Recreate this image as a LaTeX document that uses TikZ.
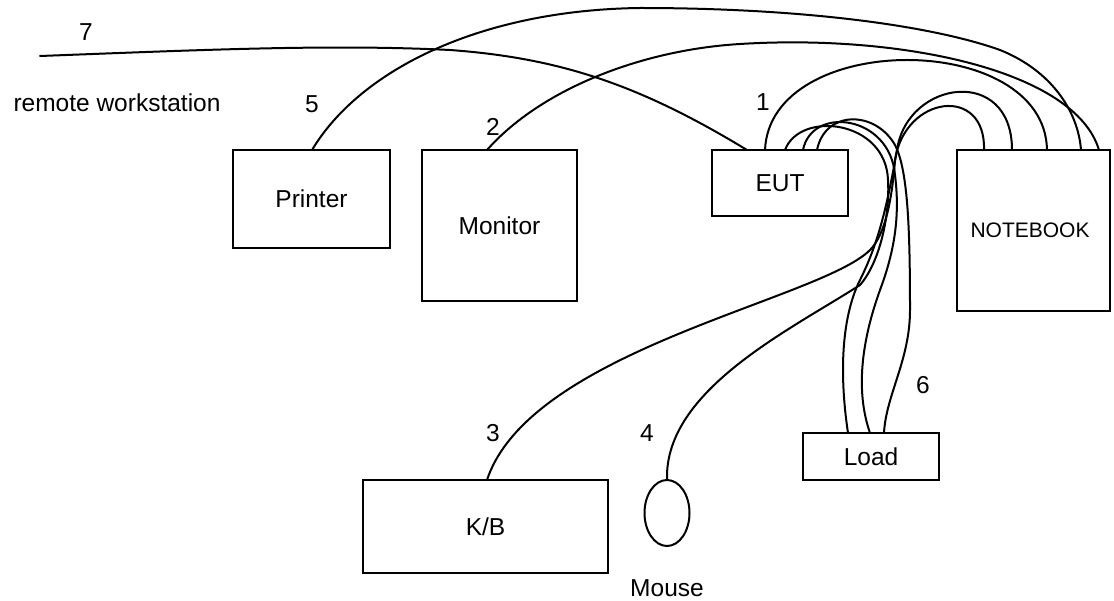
\documentclass[tikz,border=0pt]{standalone}
\usepackage{fontspec}
\setmainfont{Liberation Sans}
\usetikzlibrary{shapes.geometric}
\begin{document}
\begin{tikzpicture}[x=1pt,y=-1pt,line width=2pt,
  box/.style={draw,rectangle,inner sep=0pt,line width=2pt,font=\fontsize{24.5}{29}\selectfont},
  lbl/.style={inner sep=0pt,font=\fontsize{24.5}{29}\selectfont},
  cable/.style={line width=2pt,line join=round,line cap=round}]
\useasboundingbox (0,0) rectangle (1114,601);
% boxes
\node[box,minimum width=157pt,minimum height=98pt] (printer) at (311.5,199) {Printer};
\node[box,minimum width=155pt,minimum height=151pt] (monitor) at (499.5,225.5) {Monitor};
\node[box,minimum width=136pt,minimum height=66pt] (eut) at (780,183) {EUT};
\node[box,minimum width=153pt,minimum height=161pt] (nb) at (1033.5,230.5) {};
\node[lbl,font=\fontsize{21}{25}\selectfont] (nbt) at (1030,230.5) {NOTEBOOK};
\node[box,minimum width=136pt,minimum height=47pt] (load) at (871,456.5) {Load};
\node[box,minimum width=245pt,minimum height=93pt] (kb) at (485.5,526.5) {K/B};
\node[draw,ellipse,inner sep=0pt,minimum width=45pt,minimum height=66pt,line width=2pt] (mouse) at (667,513) {};
% labels
\node[lbl] (l7) at (86,32) {7};
\node[lbl] (lrw) at (117,103) {remote workstation};
\node[lbl] (l5) at (312,104) {5};
\node[lbl] (l2) at (493,127) {2};
\node[lbl] (l1) at (763,102) {1};
\node[lbl] (l3) at (493,433) {3};
\node[lbl] (l4) at (647,433) {4};
\node[lbl] (l6) at (923,385) {6};
\node[lbl] (lm) at (667,588) {Mouse};
% ports
\coordinate (rw) at (40,56);
\coordinate (e7) at (747,150);
\coordinate (e1) at (765,150);
\coordinate (ea) at (785,150);
\coordinate (eb) at (803,150);
\coordinate (ec) at (817,150);
\coordinate (pp) at (312,150);
\coordinate (mp) at (487,150);
\coordinate (na) at (984,150);
\coordinate (nb1) at (1012,150);
\coordinate (n1) at (1047,150);
\coordinate (n5) at (1081,150);
\coordinate (n2) at (1099,150);
\coordinate (la) at (848,433);
\coordinate (lb) at (870,433);
\coordinate (lc) at (884,433);
\coordinate (kp) at (487,480);
\coordinate (ms) at (mouse.north);
% cable 7: remote workstation - EUT
\draw[cable] (rw) .. controls (200,50) and (330,44) .. (450,50) .. controls (560,58) and (640,85) .. (e7);
% cable 5: printer - notebook
\draw[cable] (pp) .. controls (360,70) and (480,10) .. (640,8) .. controls (800,8) and (930,25) .. (1000,50) .. controls (1050,70) and (1078,110) .. (n5);
% cable 2: monitor - notebook
\draw[cable] (mp) .. controls (540,90) and (640,50) .. (740,44) .. controls (900,34) and (1075,70) .. (n2);
% cable 1: EUT - notebook
\draw[cable] (e1) .. controls (770,30) and (1045,30) .. (n1);
% K/B cable
\draw[cable] (kp) .. controls (530,350) and (820,300) .. (870,250) .. controls (885,235) and (892,200) .. (895,160) .. controls (905,95) and (986,85) .. (na);
% mouse cable
\draw[cable] (ms) .. controls (665,390) and (790,330) .. (860,285) .. controls (880,262) and (890,215) .. (888,180) .. controls (886,120) and (800,110) .. (ea);
% load cables
\draw[cable] (lb) .. controls (855,390) and (862,340) .. (880,290) .. controls (895,250) and (900,215) .. (895,175) .. controls (890,115) and (812,105) .. (eb);
\draw[cable] (lc) .. controls (886,395) and (910,360) .. (910,310) .. controls (910,230) and (908,170) .. (895,145) .. controls (875,110) and (825,110) .. (ec);
\draw[cable] (la) .. controls (840,380) and (840,320) .. (860,280) .. controls (880,240) and (888,200) .. (897,150) .. controls (907,80) and (1012,65) .. (nb1);
\end{tikzpicture}
\end{document}
